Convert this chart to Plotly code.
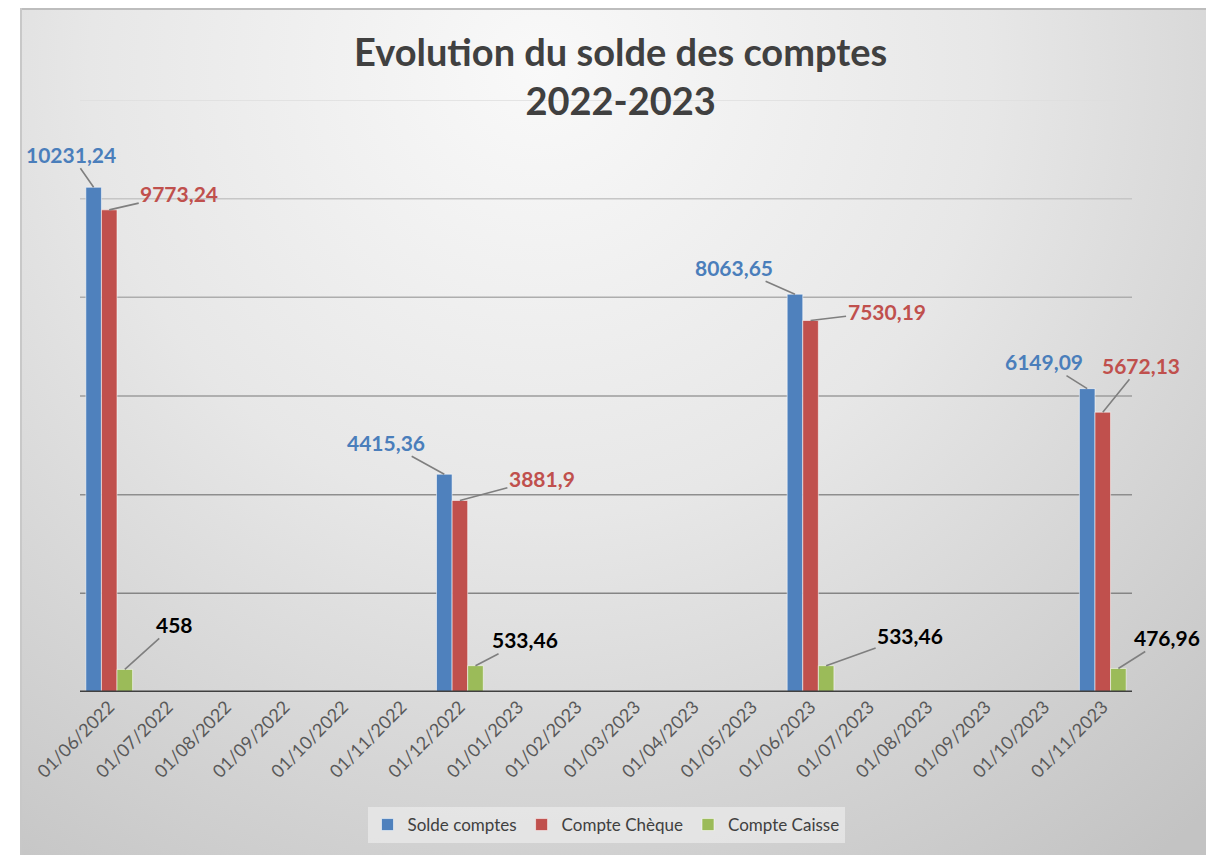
import base64
import plotly.graph_objects as go

# ---- data ----
months = ["01/06/2022", "01/07/2022", "01/08/2022", "01/09/2022", "01/10/2022", "01/11/2022",
          "01/12/2022", "01/01/2023", "01/02/2023", "01/03/2023", "01/04/2023", "01/05/2023",
          "01/06/2023", "01/07/2023", "01/08/2023", "01/09/2023", "01/10/2023", "01/11/2023"]
dates = ["01/06/2022", "01/12/2022", "01/06/2023", "01/11/2023"]
solde_comptes = [10231.24, 4415.36, 8063.65, 6149.09]
compte_cheque = [9773.24, 3881.9, 7530.19, 5672.13]
compte_caisse = [458, 533.46, 533.46, 476.96]
labels_solde = ["10231,24", "4415,36", "8063,65", "6149,09"]
labels_cheque = ["9773,24", "3881,9", "7530,19", "5672,13"]
labels_caisse = ["458", "533,46", "533,46", "476,96"]
grid_values = [2000, 4000, 6000, 8000, 10000, 12000]
title_text = "Evolution du solde des comptes<br>2022-2023"

# ---- style ----
OFF = 8  # page body margin
W, H = 1214 - OFF, 855 - OFF
ML, MT = 80 - OFF, 100 - OFF
PLOT_R, PLOT_B = 1132 - OFF, 692 - OFF
MR, MB = W - PLOT_R, H - PLOT_B
PW, PH = W - ML - MR, H - MT - MB
FONT = "Lato"
BARGAP = 0.2
colors = ["#4F81BD", "#C0504D", "#9BBB59"]
label_colors = ["#4A7EBB", "#C0504D", "#000000"]
grid_colors = ["#858585", "#8e8e8e", "#9c9c9c", "#adadad", "#c6c6c6", "#dedede"]
offsets = [
    [(-23, -33), (-58, -32), (-61, -27), (-43, -27)],
    [(70, -16), (82, -22), (76, -9), (38, -47)],
    [(50, -45), (50, -26), (84, -30), (49, -31)],
]

series = [("Solde comptes", solde_comptes, labels_solde),
          ("Compte Chèque", compte_cheque, labels_cheque),
          ("Compte Caisse", compte_caisse, labels_caisse)]

def px_x(sx):
    return (sx - OFF - ML) / PW

def px_y(sy):
    return (PLOT_B - (sy - OFF)) / PH

fig = go.Figure()
for i, (name, vals, _) in enumerate(series):
    fig.add_trace(go.Bar(
        name=name, x=dates, y=vals,
        marker=dict(color=colors[i], line=dict(color="rgba(255,255,255,0.55)", width=1)),
    ))

cat_px = PW / len(months)
bar_px = cat_px * (1 - BARGAP) / 3
annotations = []
for i, (name, vals, labs) in enumerate(series):
    for j, (d, v, lab) in enumerate(zip(dates, vals, labs)):
        ax, ay = offsets[i][j]
        annotations.append(dict(
            x=d, y=v, xref="x", yref="y", xshift=(i - 1) * bar_px,
            text=f"<b>{lab}</b>", showarrow=True, arrowhead=0, arrowwidth=1.6,
            arrowcolor="#7f7f7f", ax=ax, ay=ay, standoff=0,
            font=dict(family=FONT, size=21, color=label_colors[i]),
        ))

# title
annotations.append(dict(
    text=f"<b>{title_text}</b>", xref="paper", yref="paper",
    x=px_x(620), y=px_y(76), xanchor="center", yanchor="middle", showarrow=False,
    font=dict(family=FONT, size=38, color="#404040"),
))

# background gradient (chart area)
BW, BH = 1214 - 20, 855 - OFF
svg = (f'<svg xmlns="http://www.w3.org/2000/svg" width="{BW}" height="{BH}" viewBox="0 0 {BW} {BH}">'
       '<defs><radialGradient id="g" gradientUnits="userSpaceOnUse" cx="520" cy="60" r="1000">'
       '<stop offset="0" stop-color="#f9f9f9"/><stop offset="0.45" stop-color="#e7e7e7"/>'
       '<stop offset="1" stop-color="#c3c3c3"/></radialGradient></defs>'
       f'<rect x="0" y="0" width="{BW}" height="{BH}" fill="url(#g)"/>'
       f'<line x1="0" y1="1" x2="{BW}" y2="1" stroke="#bdbdbd" stroke-width="2"/>'
       f'<line x1="1" y1="0" x2="1" y2="{BH}" stroke="#c8c8c8" stroke-width="2"/>'
       '</svg>')
src = "data:image/svg+xml;base64," + base64.b64encode(svg.encode()).decode()
images = [dict(source=src, xref="paper", yref="paper",
               x=px_x(20), y=px_y(OFF),
               sizex=BW / PW, sizey=BH / PH,
               xanchor="left", yanchor="top", sizing="stretch", layer="below")]

shapes = []
for gv, gc in zip(grid_values, grid_colors):
    shapes.append(dict(type="line", xref="paper", yref="y", x0=0, x1=1, y0=gv, y1=gv,
                       line=dict(color=gc, width=1.5), layer="below"))
shapes.append(dict(type="line", xref="paper", yref="y", x0=0, x1=1, y0=0, y1=0,
                   line=dict(color="#404040", width=3), layer="above"))

fig.update_layout(
    width=W, height=H,
    margin=dict(l=ML, r=MR, t=MT, b=MB, autoexpand=False),
    paper_bgcolor="#ffffff", plot_bgcolor="rgba(0,0,0,0)",
    barmode="group", bargap=BARGAP, bargroupgap=0,
    xaxis=dict(type="category", categoryorder="array", categoryarray=months,
               tickmode="array", tickvals=months, ticktext=months,
               tickangle=-45, tickfont=dict(family=FONT, size=18, color="#595959"),
               showgrid=False, showline=False, zeroline=False, ticks="",
               range=[-0.5, len(months) - 0.5]),
    yaxis=dict(range=[0, 12000], showgrid=False, zeroline=False, showticklabels=False,
               showline=False, ticks=""),
    legend=dict(orientation="h", x=px_x(606), xanchor="center", y=px_y(825), yanchor="middle",
                bgcolor="rgba(240,240,240,0.6)", borderwidth=0,
                font=dict(family=FONT, size=17, color="#404040"),
                itemwidth=30, traceorder="normal"),
    annotations=annotations, shapes=shapes, images=images,
    showlegend=True,
)

fig.write_html("out.html")
